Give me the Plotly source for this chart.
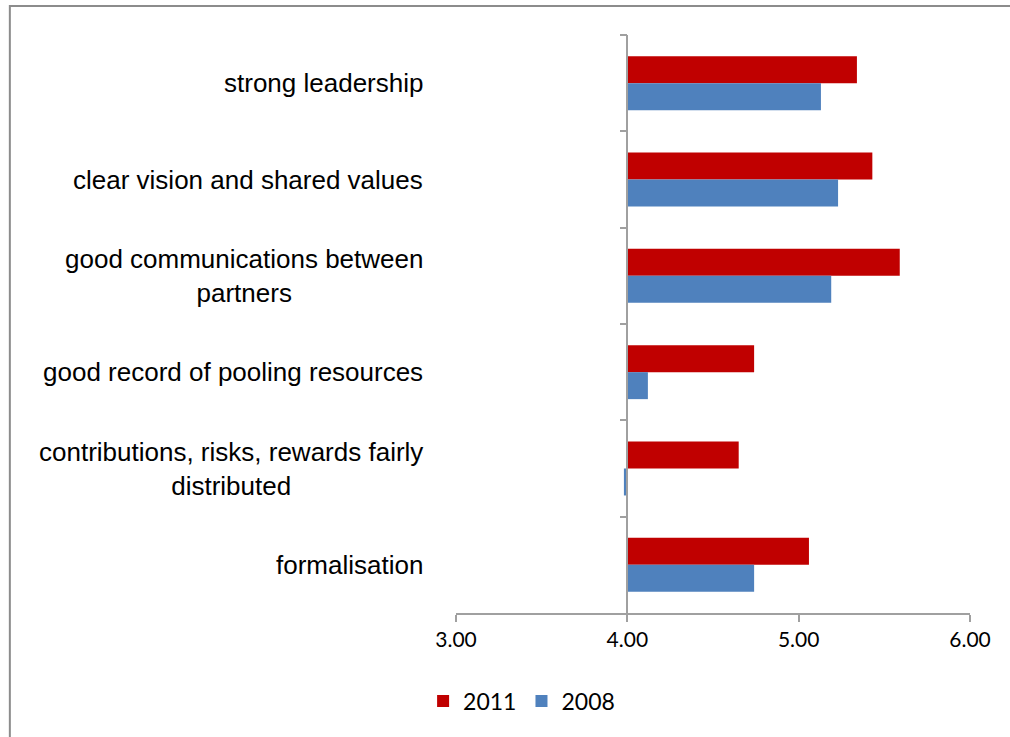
import plotly.graph_objects as go

categories = [
    "strong leadership",
    "clear vision and shared values",
    "good communications between<br>partners",
    "good record of pooling resources",
    "contributions, risks, rewards fairly<br>distributed",
    "formalisation",
]
values_2011 = [5.34, 5.43, 5.59, 4.74, 4.65, 5.06]
values_2008 = [5.13, 5.23, 5.19, 4.12, 3.98, 4.74]
baseline = 4.0
x_range = [3.0, 6.0]
tick_vals = [3.0, 4.0, 5.0, 6.0]
tick_text = ["3.00", "4.00", "5.00", "6.00"]

tick_font = "Lato, Open Sans, sans-serif"

fig = go.Figure()
fig.add_trace(go.Bar(
    y=categories, x=[v - baseline for v in values_2011], base=baseline,
    orientation="h", name="2011", marker=dict(color="#C00000", line=dict(width=0)),
))
fig.add_trace(go.Bar(
    y=categories, x=[v - baseline for v in values_2008], base=baseline,
    orientation="h", name="2008", marker=dict(color="#4F81BD", line=dict(width=0)),
))

for c in categories:
    fig.add_annotation(
        x=-0.06, xref="paper", y=c, yref="y", text=c, showarrow=False,
        xanchor="right", align="center",
        font=dict(family="Liberation Sans, Arial", size=26, color="#000000"),
    )

fig.add_shape(
    type="rect", xref="paper", yref="paper",
    x0=-0.868, x1=1.12, y0=-0.30, y1=1.050,
    line=dict(color="#8C8C8C", width=2), fillcolor="rgba(0,0,0,0)", layer="above",
)

fig.update_layout(
    width=1010, height=737,
    margin=dict(l=456, r=40, t=35, b=124),
    paper_bgcolor="white", plot_bgcolor="white",
    barmode="group", bargap=0.44, bargroupgap=0,
    showlegend=True,
    legend=dict(
        orientation="h", x=-0.064, y=-0.115, xanchor="left", yanchor="top",
        font=dict(family=tick_font, size=23, color="#000000"),
        traceorder="normal", itemwidth=30,
    ),
    xaxis=dict(
        range=x_range, tickvals=tick_vals, ticktext=tick_text,
        showgrid=False, zeroline=False, showline=True, linecolor="#A0A0A0", linewidth=1.5,
        ticks="outside", ticklen=7, tickcolor="#A0A0A0", tickwidth=1.5,
        tickfont=dict(family=tick_font, size=21, color="#000000"),
        fixedrange=True,
    ),
    yaxis=dict(
        autorange="reversed", showticklabels=False, showgrid=False, zeroline=False,
        showline=True, linecolor="#A0A0A0", linewidth=1.5,
        ticks="outside", ticklen=7, tickcolor="#A0A0A0", tickwidth=1.5,
        tickson="boundaries", anchor="free",
        position=(baseline - x_range[0]) / (x_range[1] - x_range[0]),
    ),
)

fig.write_html(
    "out.html",
    config={"displayModeBar": False},
    post_script="document.body.style.margin='0';",
)
